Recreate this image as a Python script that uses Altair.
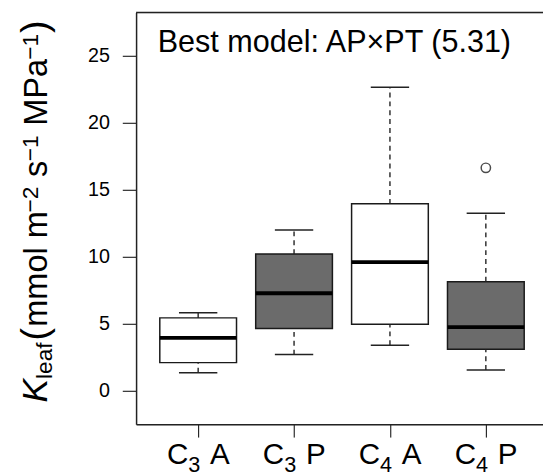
import altair as alt
import pandas as pd

# ---- data ----
groups = ["C3 A", "C3 P", "C4 A", "C4 P"]
group_pos = [1, 2, 3, 4]
pathway_digit = ["3", "3", "4", "4"]
habit_letter = ["A", "P", "A", "P"]
box_fill = ["#ffffff", "#6b6b6b", "#ffffff", "#6b6b6b"]
whisker_low = [1.35, 2.70, 3.40, 1.55]
q1 = [2.10, 4.65, 4.97, 3.10]
median = [3.95, 7.28, 9.60, 4.75]
q3 = [5.44, 10.20, 13.95, 8.14]
whisker_high = [5.83, 12.00, 22.65, 13.24]
outlier_pos = [4]
outlier_value = [16.64]
y_ticks = [0, 5, 10, 15, 20, 25]
panel_text = "Best model: AP×PT (5.31)"

# y-axis title pieces: text, font size, italic, baseline x offset, start y
ytitle_text = ["K", "leaf", "(", "mmol m", "\u22122", "s", "\u22121", "MPa", "\u22121", ")"]
ytitle_size = [36, 23, 38, 33, 23, 33, 23, 33, 23, 38]
ytitle_italic = [True] + [False] * 9
ytitle_bx = [-90, -85, -90, -90, -100, -90, -100, -90, -100, -90]
ytitle_sy = [396, 372, 333, 319, 203, 167, 151, 115, 48, 21]

W, H = 413, 418
FONT = "Liberation Sans"

df = pd.DataFrame({
    "group": groups, "pos": group_pos, "digit": pathway_digit, "letter": habit_letter,
    "fill": box_fill, "lo": whisker_low, "q1": q1, "med": median, "q3": q3, "hi": whisker_high,
})
out_df = pd.DataFrame({"pos": outlier_pos, "val": outlier_value})

xs = alt.Scale(domain=[0.3527, 4.596], nice=False, zero=False)
ys = alt.Scale(domain=[-2.5, 28.235], nice=False, zero=False)

ax_x = alt.Axis(values=group_pos, labels=False, tickSize=13, tickColor="black", tickWidth=1,
                domainColor="#222222", domainWidth=1.5, grid=False, title=None)
ax_y = alt.Axis(values=y_ticks, format="d", tickSize=14, tickColor="black", tickWidth=1,
                labelFont=FONT, labelFontSize=20, labelColor="black", labelPadding=13,
                domainColor="#222222", domainWidth=1.5, grid=False, title=None)


def X(f):
    return alt.X(f, scale=xs, axis=ax_x)


def Y(f):
    return alt.Y(f, scale=ys, axis=ax_y)


base = alt.Chart(df).transform_calculate(
    xl="datum.pos - 0.4", xr="datum.pos + 0.4",
    cl="datum.pos - 0.2", cr="datum.pos + 0.2",
)

boxes = base.mark_bar(stroke="#1a1a1a", strokeWidth=1.5).encode(
    x=X("xl:Q"), x2="xr:Q", y=Y("q1:Q"), y2="q3:Q",
    fill=alt.Fill("fill:N", scale=None),
)

dash = [5, 4]
wh_hi = base.mark_rule(color="#222222", strokeWidth=1.4, strokeDash=dash).encode(
    x=X("pos:Q"), y=Y("q3:Q"), y2="hi:Q")
wh_lo = base.mark_rule(color="#222222", strokeWidth=1.4, strokeDash=dash).encode(
    x=X("pos:Q"), y=Y("lo:Q"), y2="q1:Q")
cap_hi = base.mark_rule(color="#222222", strokeWidth=1.5).encode(
    x=X("cl:Q"), x2="cr:Q", y=Y("hi:Q"))
cap_lo = base.mark_rule(color="#222222", strokeWidth=1.5).encode(
    x=X("cl:Q"), x2="cr:Q", y=Y("lo:Q"))
med = base.mark_rule(color="black", strokeWidth=4).encode(
    x=X("xl:Q"), x2="xr:Q", y=Y("med:Q"))

outl = alt.Chart(out_df).mark_point(shape="circle", filled=False, size=90,
                                     stroke="black", strokeWidth=1.5).encode(
    x=X("pos:Q"), y=Y("val:Q"))

top_frame = alt.Chart(pd.DataFrame({"a": [0]})).mark_rule(color="#222222", strokeWidth=1.5).encode(
    x=alt.value(0), x2=alt.value(W), y=alt.value(0))

title_txt = alt.Chart(pd.DataFrame({"t": [panel_text]})).mark_text(
    align="left", baseline="alphabetic", font=FONT, fontSize=31, color="black").encode(
    text="t:N", x=alt.value(22), y=alt.value(40))

# x category labels: C + subscript digit + letter
lab_c = base.mark_text(align="right", baseline="alphabetic", font=FONT, fontSize=30,
                       color="black", dx=-10).encode(
    x=X("pos:Q"), y=alt.value(458), text=alt.value("C"))
lab_d = base.mark_text(align="left", baseline="alphabetic", font=FONT, fontSize=22,
                       color="black", dx=-10).encode(
    x=X("pos:Q"), y=alt.value(466), text="digit:N")
lab_l = base.mark_text(align="left", baseline="alphabetic", font=FONT, fontSize=30,
                       color="black", dx=12).encode(
    x=X("pos:Q"), y=alt.value(458), text="letter:N")

ytitle_layers = []
for t, s, it, bx, sy in zip(ytitle_text, ytitle_size, ytitle_italic, ytitle_bx, ytitle_sy):
    ytitle_layers.append(
        alt.Chart(pd.DataFrame({"t": [t]})).mark_text(
            align="left", baseline="alphabetic", angle=270, font=FONT, fontSize=s,
            fontStyle="italic" if it else "normal", color="black").encode(
            text="t:N", x=alt.value(bx), y=alt.value(sy)))

chart = alt.layer(
    boxes, wh_hi, wh_lo, cap_hi, cap_lo, med, outl, top_frame, title_txt,
    lab_c, lab_d, lab_l, *ytitle_layers,
).properties(
    width=W, height=H,
    autosize=alt.AutoSizeParams(type="none"),
    padding={"left": 130, "top": 1, "right": 0, "bottom": 49},
).configure_view(stroke=None).configure(background="white")

chart.save("out.html", embed_options={"renderer": "svg", "actions": False})
